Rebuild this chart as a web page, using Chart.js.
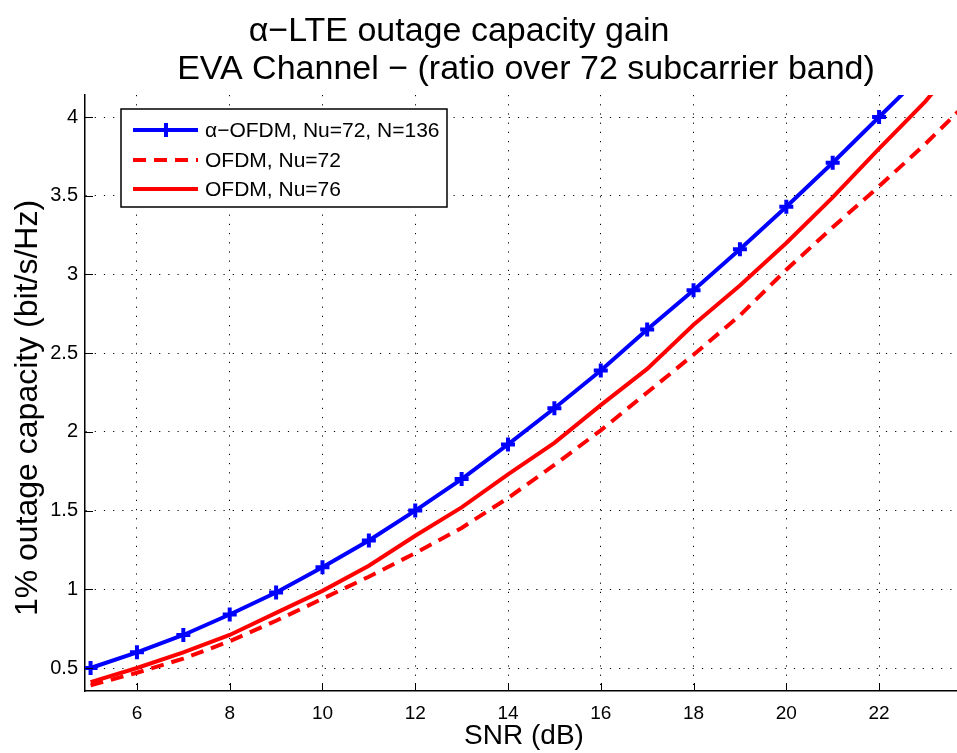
<!DOCTYPE html>
<html>
<head>
<meta charset="utf-8">
<script src="https://cdn.jsdelivr.net/npm/chart.js@4.4.0/dist/chart.umd.min.js"></script>
<style>
    html, body { margin: 0; padding: 0; background: #fff; overflow: hidden; }
    #wrap { width: 957px; height: 753px; position: relative; }
    canvas { display: block; }
</style>
</head>
<body>
<div id="wrap"><canvas id="capChart"></canvas></div>
<script>
// SNR points (dB)
const snrAlpha = [5, 6, 7, 8, 9, 10, 11, 12, 13, 14, 15, 16, 17, 18, 19, 20, 21, 22, 23];
const snrOfdm = [5, 6, 7, 8, 9, 10, 11, 12, 13, 14, 15, 16, 17, 18, 19, 20, 21, 22, 23, 24];

// 1% outage capacity (bit/s/Hz)
const alphaOfdm72 = [0.50, 0.60, 0.71, 0.84, 0.98, 1.14, 1.31, 1.50, 1.70, 1.92, 2.15, 2.39, 2.65, 2.90, 3.16, 3.43, 3.71, 4.00, 4.29];
const ofdm72 = [0.39, 0.47, 0.56, 0.67, 0.80, 0.94, 1.08, 1.23, 1.39, 1.58, 1.79, 2.01, 2.25, 2.49, 2.74, 3.03, 3.30, 3.56, 3.83, 4.12];
const ofdm76 = [0.41, 0.50, 0.60, 0.71, 0.85, 0.99, 1.15, 1.34, 1.52, 1.73, 1.93, 2.17, 2.40, 2.68, 2.93, 3.20, 3.49, 3.80, 4.10, 4.45];

const xTicks = [6, 8, 10, 12, 14, 16, 18, 20, 22];
const yTicks = [0.5, 1, 1.5, 2, 2.5, 3, 3.5, 4];

const FONT = '"Liberation Sans", Arial, Helvetica, sans-serif';

function toPoints(xs, ys) {
    return xs.map((x, i) => ({ x: x, y: ys[i] }));
}

// titles, inward ticks and the boxed legend, MATLAB style
const matlabBits = {
    id: 'matlabBits',
    afterDraw(chart) {
        const ctx = chart.ctx;
        const area = chart.chartArea;
        const xs = chart.scales.x, ys = chart.scales.y;
        ctx.save();

        // inward tick marks
        ctx.strokeStyle = '#000';
        ctx.lineWidth = 1;
        ctx.beginPath();
        xTicks.forEach(v => {
            const px = Math.round(xs.getPixelForValue(v)) + 0.5;
            ctx.moveTo(px, area.bottom);
            ctx.lineTo(px, area.bottom - 8);
        });
        yTicks.forEach(v => {
            const py = Math.round(ys.getPixelForValue(v)) + 0.5;
            ctx.moveTo(area.left, py);
            ctx.lineTo(area.left + 8, py);
        });
        ctx.stroke();

        // title
        ctx.fillStyle = '#000';
        ctx.textAlign = 'center';
        ctx.textBaseline = 'alphabetic';
        ctx.font = '34px ' + FONT;
        ctx.fillText('\u03b1\u2212LTE outage capacity gain', 459, 41);
        ctx.fillText('EVA Channel \u2212 (ratio over 72 subcarrier band)', 526, 79);

        // axis titles
        ctx.font = '28px ' + FONT;
        ctx.fillText('SNR (dB)', 524, 744);
        ctx.save();
        ctx.translate(37, 408);
        ctx.rotate(-Math.PI / 2);
        ctx.font = '32px ' + FONT;
        ctx.fillText('1% outage capacity (bit/s/Hz)', 0, 0);
        ctx.restore();

        // legend
        const bx = 121, by = 109, bw = 326, bh = 98;
        ctx.fillStyle = '#fff';
        ctx.fillRect(bx, by, bw, bh);
        ctx.strokeStyle = '#000';
        ctx.lineWidth = 1.5;
        ctx.strokeRect(bx, by, bw, bh);
        const rows = [130, 160, 189];
        chart.data.datasets.forEach((ds, i) => {
            const y = rows[i];
            ctx.strokeStyle = ds.borderColor;
            ctx.lineWidth = ds.borderWidth;
            ctx.setLineDash(ds.borderDash || []);
            ctx.beginPath();
            ctx.moveTo(133, y);
            ctx.lineTo(198, y);
            ctx.stroke();
            ctx.setLineDash([]);
            if (ds.pointRadius > 0) {
                ctx.lineWidth = ds.pointBorderWidth;
                ctx.beginPath();
                ctx.moveTo(166 - 7, y);
                ctx.lineTo(166 + 7, y);
                ctx.moveTo(166, y - 7);
                ctx.lineTo(166, y + 7);
                ctx.stroke();
            }
            ctx.fillStyle = '#000';
            ctx.textAlign = 'left';
            ctx.textBaseline = 'middle';
            ctx.font = '21px ' + FONT;
            ctx.fillText(ds.label, 205, y + 1);
        });
        ctx.restore();
    }
};

const ctx = document.getElementById('capChart').getContext('2d');
new Chart(ctx, {
    type: 'line',
    data: {
        datasets: [{
            label: '\u03b1\u2212OFDM, Nu=72, N=136',
            data: toPoints(snrAlpha, alphaOfdm72),
            borderColor: '#0000ff',
            backgroundColor: '#0000ff',
            borderWidth: 4,
            pointStyle: 'cross',
            pointRadius: 7,
            pointBorderWidth: 4,
            pointBorderColor: '#0000ff',
            tension: 0
        }, {
            label: 'OFDM, Nu=72',
            data: toPoints(snrOfdm, ofdm72),
            borderColor: '#ff0000',
            borderWidth: 4,
            borderDash: [13, 8],
            pointRadius: 0,
            tension: 0
        }, {
            label: 'OFDM, Nu=76',
            data: toPoints(snrOfdm, ofdm76),
            borderColor: '#ff0000',
            borderWidth: 4,
            pointRadius: 0,
            tension: 0
        }]
    },
    options: {
        responsive: true,
        maintainAspectRatio: false,
        animation: false,
        layout: { autoPadding: false, padding: { top: 95, right: 0, left: 0, bottom: 0 } },
        plugins: {
            legend: { display: false },
            tooltip: { enabled: false },
            title: { display: false }
        },
        scales: {
            x: {
                type: 'linear',
                min: 4.88,
                max: 23.68,
                afterFit: s => { s.height = 62; s.paddingLeft = 0; s.paddingRight = 0; },
                afterBuildTicks: s => { s.ticks = xTicks.map(v => ({ value: v })); },
                grid: { color: '#000', lineWidth: 1, drawTicks: false },
                border: { display: true, color: '#000', width: 1.5, dash: [1.2, 8] },
                ticks: { color: '#000', font: { family: FONT, size: 19 }, padding: 11, maxRotation: 0 }
            },
            y: {
                type: 'linear',
                min: 0.354,
                max: 4.14,
                afterFit: s => { s.width = 85; s.paddingTop = 0; s.paddingBottom = 0; },
                afterBuildTicks: s => { s.ticks = yTicks.map(v => ({ value: v })); },
                grid: { color: '#000', lineWidth: 1, drawTicks: false },
                border: { display: true, color: '#000', width: 1.5, dash: [1.2, 8] },
                ticks: { color: '#000', font: { family: FONT, size: 20 }, padding: 7, callback: v => String(v) }
            }
        }
    },
    plugins: [matlabBits]
});
</script>
</body>
</html>
